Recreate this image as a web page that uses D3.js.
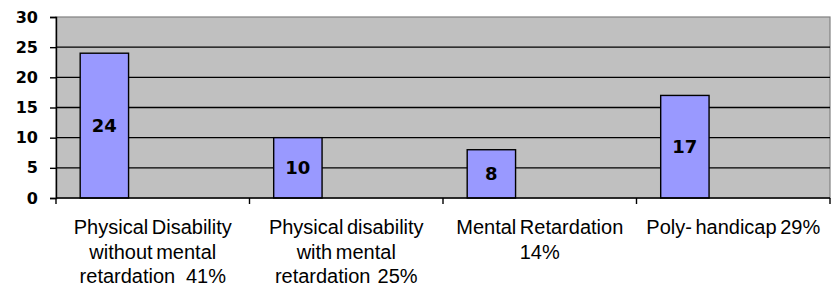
<!DOCTYPE html>
<html>
<head>
<meta charset="utf-8">
<style>
  body { margin: 0; background: #fff; }
  svg { display: block; }
</style>
</head>
<body>
<div id="chart"></div>
<script src="https://cdnjs.cloudflare.com/ajax/libs/d3/7.8.5/d3.min.js"></script>
<script>
    // data
    var categories = ["pd", "pdm", "mr", "poly"];
    var categoryLines = [
        ["Physical Disability", "without mental", "retardation   41%"],
        ["Physical disability", "with mental", "retardation  25%"],
        ["Mental Retardation", "14%"],
        ["Poly- handicap 29%"]
    ];
    var values = [24, 10, 8, 17];
    var series = ["s1", "s2", "s3"]; // only the first one has data, the others keep the slot
    var yTicks = [0, 5, 10, 15, 20, 25, 30];

    var width = 840, height = 291;
    var margin = {top: 17, right: 10, bottom: 93, left: 56};
    var w = width - margin.left - margin.right;
    var h = height - margin.top - margin.bottom;

    var svg = d3.select("#chart").append("svg")
        .attr("width", width)
        .attr("height", height);

    var g = svg.append("g")
        .attr("transform", "translate(" + margin.left + "," + margin.top + ")");

    var x = d3.scaleBand().domain(categories).range([0, w]).padding(0);
    var x1 = d3.scaleBand().domain(series).range([0, x.bandwidth()])
        .paddingInner(0).paddingOuter(0.5);
    var y = d3.scaleLinear().domain([0, 30]).range([h, 0]);

    // plot background
    g.append("rect")
        .attr("width", w).attr("height", h)
        .attr("fill", "#c0c0c0")
        .attr("stroke", "#808080")
        .attr("stroke-width", 1.2);

    // gridlines
    g.selectAll(".grid")
        .data(yTicks.filter(function(d){ return d > 0 && d < 30; }))
        .enter().append("line")
        .attr("x1", 0).attr("x2", w)
        .attr("y1", function(d){ return y(d); })
        .attr("y2", function(d){ return y(d); })
        .attr("stroke", "#000")
        .attr("stroke-width", 1.3);

    // bars
    var data = categories.map(function(c, i){ return {cat: c, value: values[i]}; });

    g.selectAll(".bar")
        .data(data)
        .enter().append("rect")
        .attr("x", function(d){ return x(d.cat) + x1("s1"); })
        .attr("y", function(d){ return y(d.value); })
        .attr("width", x1.bandwidth())
        .attr("height", function(d){ return h - y(d.value); })
        .attr("fill", "#9999ff")
        .attr("stroke", "#000")
        .attr("stroke-width", 1.4);

    // value labels
    g.selectAll(".val")
        .data(data)
        .enter().append("text")
        .attr("x", function(d){ return x(d.cat) + x1("s1") + x1.bandwidth() / 2; })
        .attr("y", function(d){ return (y(d.value) + h) / 2; })
        .attr("dy", "0.36em")
        .attr("text-anchor", "middle")
        .style("font-family", "'DejaVu Sans', sans-serif")
        .style("font-weight", "bold")
        .style("font-size", "18px")
        .attr("fill", "#000")
        .text(function(d){ return d.value; });

    // y axis
    var yAxis = g.append("g")
        .call(d3.axisLeft(y).tickValues(yTicks).tickSize(6).tickPadding(12));
    yAxis.select(".domain").attr("stroke", "#000").attr("stroke-width", 1.4);
    yAxis.selectAll(".tick line").attr("stroke", "#000").attr("stroke-width", 1.4);
    yAxis.selectAll("text")
        .style("font-family", "'DejaVu Sans', sans-serif")
        .style("font-weight", "bold")
        .style("font-size", "16px")
        .attr("fill", "#000");

    // x axis, ticks on band boundaries
    var xAxis = g.append("g").attr("transform", "translate(0," + h + ")");
    xAxis.append("line")
        .attr("x1", 0).attr("x2", w)
        .attr("stroke", "#000").attr("stroke-width", 1.4);
    var bounds = categories.map(function(c){ return x(c); }).concat([w]);
    xAxis.selectAll(".xt")
        .data(bounds)
        .enter().append("line")
        .attr("x1", function(d){ return d; }).attr("x2", function(d){ return d; })
        .attr("y1", 0).attr("y2", 6)
        .attr("stroke", "#000").attr("stroke-width", 1.4);

    var labels = xAxis.selectAll(".xl")
        .data(categories)
        .enter().append("text")
        .attr("text-anchor", "middle")
        .attr("transform", function(d){ return "translate(" + (x(d) + x.bandwidth() / 2) + ",36)"; })
        .style("font-family", "'Liberation Sans', Arial, sans-serif")
        .style("font-size", "20px")
        .style("word-spacing", "-2px")
        .style("white-space", "pre")
        .attr("fill", "#000");

    labels.selectAll("tspan")
        .data(function(d, i){ return categoryLines[i]; })
        .enter().append("tspan")
        .attr("x", 0)
        .attr("y", function(d, i){ return i * 24.7; })
        .text(function(d){ return d; });
</script>
</body>
</html>
